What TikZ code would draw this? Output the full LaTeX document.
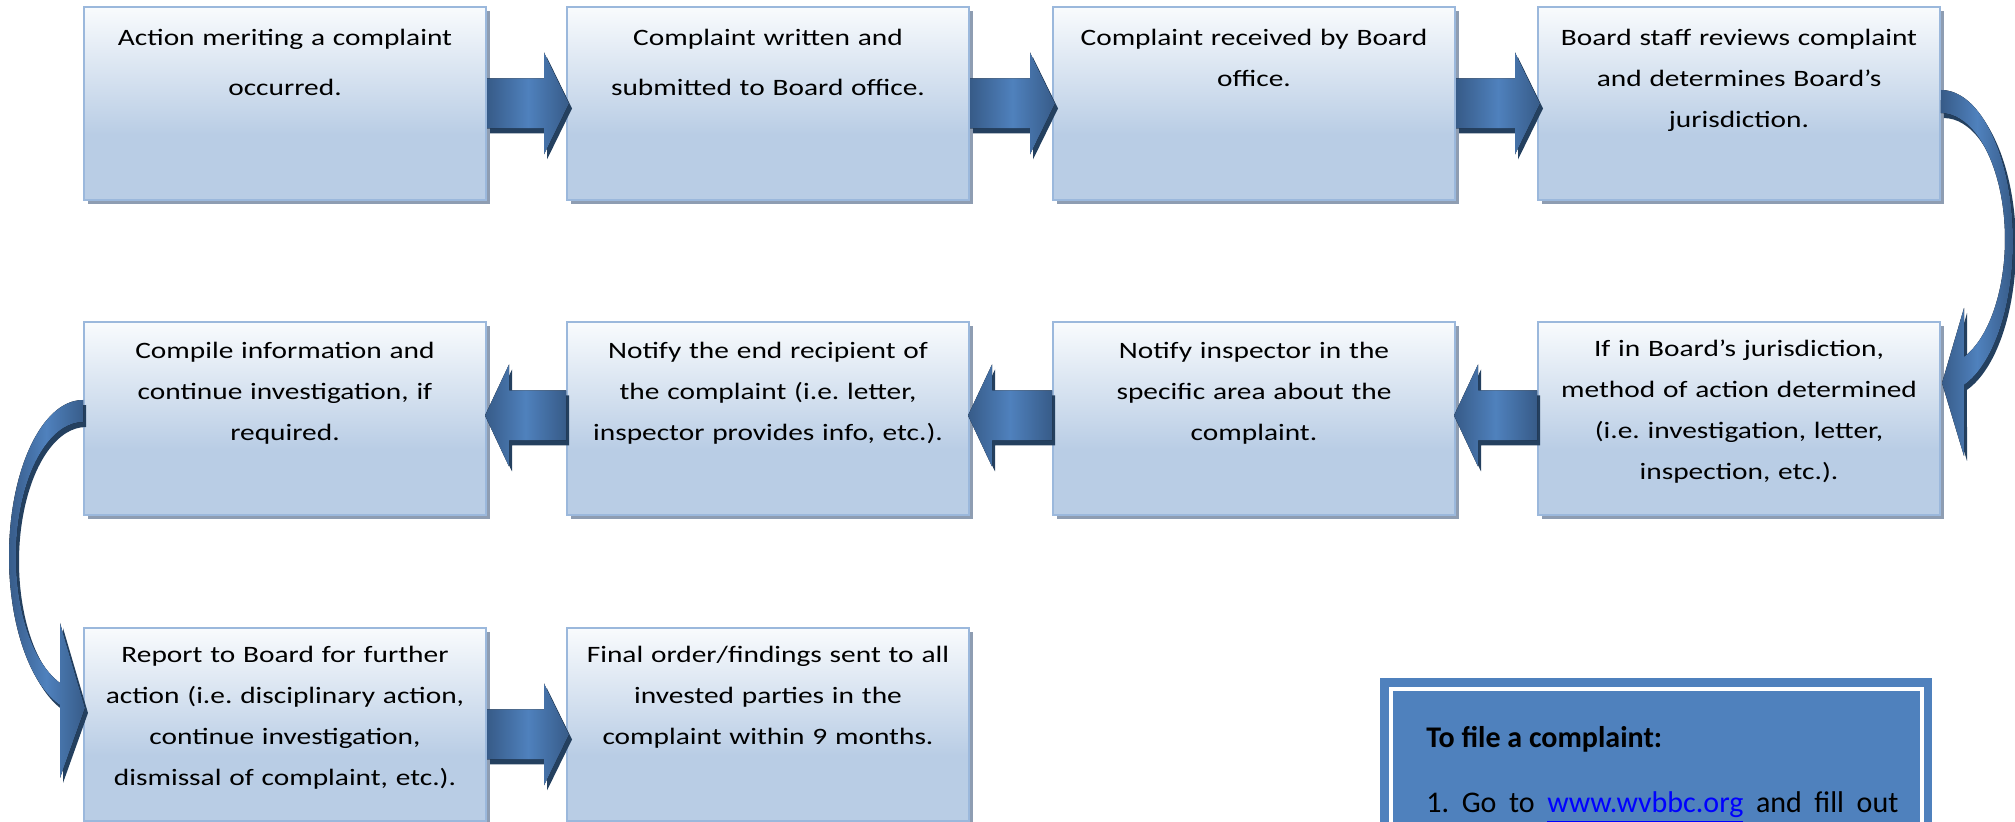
\documentclass[tikz,border=0pt]{standalone}
\usepackage{fontspec}
\setmainfont{Carlito}
\newfontfamily\boxfont{Carlito}[FakeStretch=1.25]
\usetikzlibrary{calc,shadows}
\frenchspacing

\definecolor{boxtop}{HTML}{F9FBFD}
\definecolor{boxblue}{HTML}{B9CDE5}
\definecolor{boxline}{HTML}{9BB8DC}
\definecolor{boxshadow}{HTML}{8E9DB2}
\definecolor{arrowlight}{HTML}{4F81BD}
\definecolor{arrowdark}{HTML}{375B88}
\definecolor{arrowshadow}{HTML}{24405F}
\definecolor{infoblue}{HTML}{4F81BD}
\definecolor{linkblue}{HTML}{0000FF}

\pgfdeclareverticalshading{stepshade}{100bp}{color(0bp)=(boxblue); color(25bp)=(boxblue); color(42bp)=(boxblue); color(75bp)=(boxtop); color(100bp)=(boxtop)}

\tikzset{
  stepbox/.style={rectangle, minimum width=201pt, minimum height=96.5pt, inner sep=0pt,
    shade, shading=stepshade, draw=boxline, line width=1pt,
    drop shadow={shadow xshift=2pt, shadow yshift=-2pt, fill=boxshadow, opacity=1}},
  steptext/.style={anchor=base, inner sep=0pt, text width=200pt, align=center,
    font=\boxfont\fontsize{11.75}{20.5}\selectfont\frenchspacing},
  looseline/.style={font=\boxfont\fontsize{11.75}{25}\selectfont\frenchspacing},
  blockfill/.style={left color=arrowdark, right color=arrowdark, middle color=arrowlight},
  blockshadow/.style={fill=arrowshadow, transform canvas={shift={(1.5pt,-2.5pt)}}},
  infoframe/.style={rectangle, fill=infoblue, minimum width=276pt, minimum height=110pt,
    inner sep=0pt, anchor=north west},
  infotext/.style={anchor=base west, inner sep=0pt, font=\fontsize{15}{18}\selectfont\frenchspacing},
}

% block arrow pointing right: from node, to node, vertical offset
\newcommand\blockright[3]{%
  \fill[blockshadow] ($(#1.east)+(0,#3-25)$) -- ($(#2.west)+(-22,#3-25)$) -- ($(#2.west)+(-22,#3-51)$)
    -- ($(#2.west)+(3,#3)$) -- ($(#2.west)+(-22,#3+51)$) -- ($(#2.west)+(-22,#3+25)$) -- ($(#1.east)+(0,#3+25)$) -- cycle;
  \fill[blockfill] ($(#1.east)+(0,#3-25)$) -- ($(#2.west)+(-22,#3-25)$) -- ($(#2.west)+(-22,#3-51)$)
    -- ($(#2.west)+(3,#3)$) -- ($(#2.west)+(-22,#3+51)$) -- ($(#2.west)+(-22,#3+25)$) -- ($(#1.east)+(0,#3+25)$) -- cycle;}
% block arrow pointing left
\newcommand\blockleft[3]{%
  \fill[blockshadow] ($(#1.west)+(0,#3-25)$) -- ($(#2.east)+(22,#3-25)$) -- ($(#2.east)+(22,#3-51)$)
    -- ($(#2.east)+(-2,#3)$) -- ($(#2.east)+(22,#3+51)$) -- ($(#2.east)+(22,#3+25)$) -- ($(#1.west)+(0,#3+25)$) -- cycle;
  \fill[blockfill] ($(#1.west)+(0,#3-25)$) -- ($(#2.east)+(22,#3-25)$) -- ($(#2.east)+(22,#3-51)$)
    -- ($(#2.east)+(-2,#3)$) -- ($(#2.east)+(22,#3+51)$) -- ($(#2.east)+(22,#3+25)$) -- ($(#1.west)+(0,#3+25)$) -- cycle;}

\begin{document}
\begin{tikzpicture}[x=0.5pt, y=-0.5pt]
  \path[use as bounding box, clip] (0,0) rectangle (2015,822);

  \node[stepbox] (s1) at (285,103.5) {};
  \node[stepbox] (s2) at (768,103.5) {};
  \node[stepbox] (s3) at (1254,103.5) {};
  \node[stepbox] (s4) at (1739,103.5) {};
  \node[stepbox] (s5) at (1739,418.5) {};
  \node[stepbox] (s6) at (1254,418.5) {};
  \node[stepbox] (s7) at (768,418.5) {};
  \node[stepbox] (s8) at (285,418.5) {};
  \node[stepbox] (s9) at (285,724.5) {};
  \node[stepbox] (s10) at (768,724.5) {};

  \node[steptext, looseline] (t1) at ([yshift=-20pt]s1.north) {Action meriting a complaint\\occurred.};
  \node[steptext, looseline] (t2) at ([yshift=-20pt]s2.north) {Complaint written and\\submitted to Board office.};
  \node[steptext] (t3) at ([yshift=-20pt]s3.north) {Complaint received by Board\\office.};
  \node[steptext] (t4) at ([yshift=-20pt]s4.north) {Board staff reviews complaint\\and determines Board’s\\jurisdiction.};
  \node[steptext] (t5) at ([yshift=-18pt]s5.north) {If in Board’s jurisdiction,\\method of action determined\\(i.e. investigation, letter,\\inspection, etc.).};
  \node[steptext] (t6) at ([yshift=-19pt]s6.north) {Notify inspector in the\\specific area about the\\complaint.};
  \node[steptext] (t7) at ([yshift=-19pt]s7.north) {Notify the end recipient of\\the complaint (i.e. letter,\\inspector provides info, etc.).};
  \node[steptext] (t8) at ([yshift=-19pt]s8.north) {Compile information and\\continue investigation, if\\required.};
  \node[steptext] (t9) at ([yshift=-18pt]s9.north) {Report to Board for further\\action (i.e. disciplinary action,\\continue investigation,\\dismissal of complaint, etc.).};
  \node[steptext] (t10) at ([yshift=-18pt]s10.north) {Final order/findings sent to all\\invested parties in the\\complaint within 9 months.};

  \blockright{s1}{s2}{0}
  \blockright{s2}{s3}{0}
  \blockright{s3}{s4}{0}
  \blockleft{s5}{s6}{-3}
  \blockleft{s6}{s7}{-3}
  \blockleft{s7}{s8}{-3}
  \blockright{s9}{s10}{10}

  \fill[blockshadow] ($(s4.east)+(0,-13.5)$) arc[start angle=90, end angle=-71.4, x radius=36pt, y radius=75.7pt]
    -- ($(s5.east)+(23,37.5)$) -- ($(s5.east)+(1,-35.5)$) -- ($(s5.east)+(23,-110.5)$) -- ($(s5.east)+(23,-61.5)$)
    arc[start angle=-68.9, end angle=90, x radius=32pt, y radius=63.1pt] -- cycle;
  \fill[blockfill] ($(s4.east)+(0,-13.5)$) arc[start angle=90, end angle=-71.4, x radius=36pt, y radius=75.7pt]
    -- ($(s5.east)+(23,37.5)$) -- ($(s5.east)+(1,-35.5)$) -- ($(s5.east)+(23,-110.5)$) -- ($(s5.east)+(23,-61.5)$)
    arc[start angle=-68.9, end angle=90, x radius=32pt, y radius=63.1pt] -- cycle;

  \fill[blockshadow] ($(s8.west)+(0,-18.5)$) arc[start angle=90, end angle=251.9, x radius=37pt, y radius=78.2pt]
    -- ($(s9.west)+(-23,53.5)$) -- ($(s9.west)+(2,-16.5)$) -- ($(s9.west)+(-23,-101.5)$) -- ($(s9.west)+(-23,-41.5)$)
    arc[start angle=249.9, end angle=90, x radius=33.5pt, y radius=67.3pt] -- cycle;
  \fill[blockfill] ($(s8.west)+(0,-18.5)$) arc[start angle=90, end angle=251.9, x radius=37pt, y radius=78.2pt]
    -- ($(s9.west)+(-23,53.5)$) -- ($(s9.west)+(2,-16.5)$) -- ($(s9.west)+(-23,-101.5)$) -- ($(s9.west)+(-23,-41.5)$)
    arc[start angle=249.9, end angle=90, x radius=33.5pt, y radius=67.3pt] -- cycle;

  \node[infoframe] (info) at (1380,678) {};
  \draw[white, line width=2pt] ([xshift=5.5pt, yshift=-5.5pt]info.north west) rectangle ([xshift=-5.5pt, yshift=5.5pt]info.south east);
  \node[infotext] (infohead) at (1426,748) {\bfseries To file a complaint:};
  \node[infotext] (infostep) at (1426,813) {\hbox to 236pt{1. Go to {\color{linkblue}\underline{www.wvbbc.org}} and fill out}};
\end{tikzpicture}
\end{document}
